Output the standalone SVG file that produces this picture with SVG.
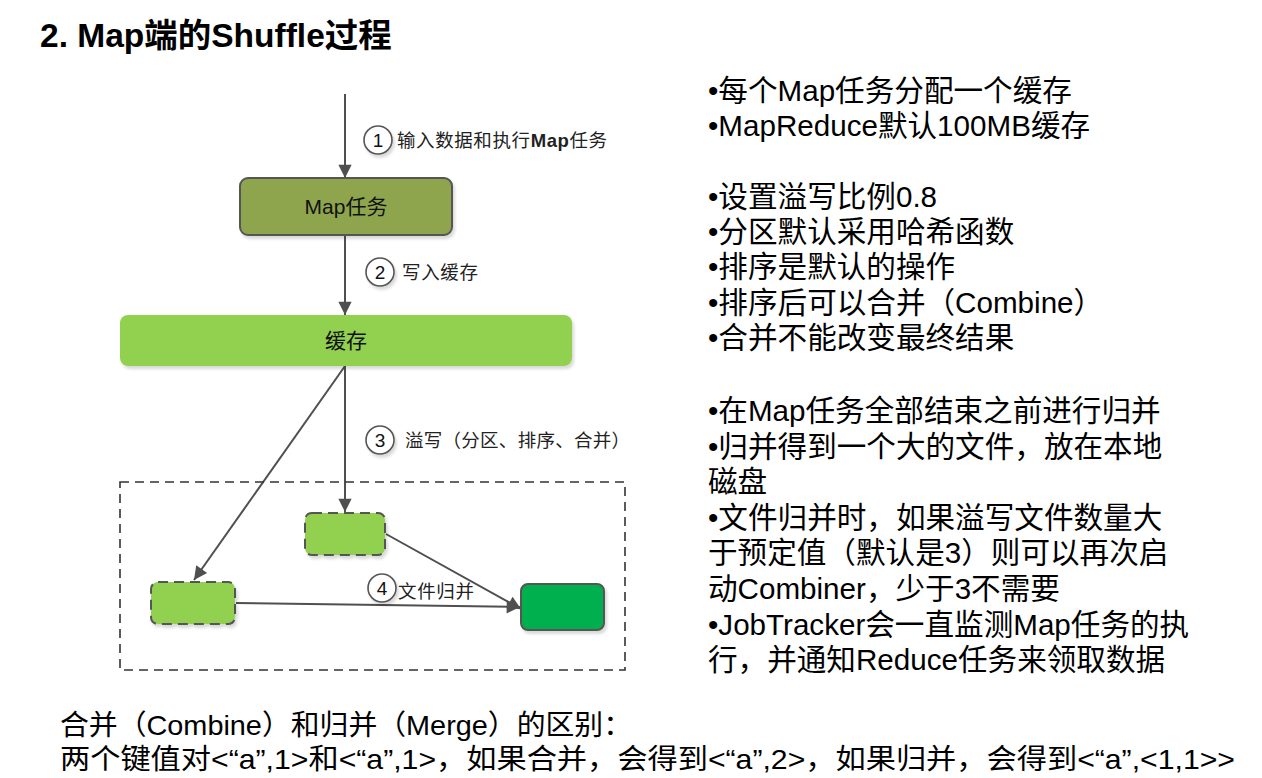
<svg xmlns="http://www.w3.org/2000/svg" width="1262" height="778" viewBox="0 0 1262 778">
<style>
.t{font-family:"Liberation Sans","Noto Sans CJK SC",sans-serif;fill:#000}
.title{font-size:33.5px;font-weight:bold}
.note{font-size:29.6px}
.bot{font-size:28px}
.lbl{font-family:"Noto Sans CJK SC","Liberation Sans",sans-serif;font-size:18.5px;fill:#222}
.num{font-family:"Liberation Sans",sans-serif;font-size:19px;fill:#111;text-anchor:middle}
.box{font-family:"Liberation Sans","Noto Sans CJK SC",sans-serif;fill:#111;text-anchor:middle}
.edge{stroke:#4f4f4f;stroke-width:2;fill:none}
.circ{fill:#fff;stroke:#555;stroke-width:1.6}
</style>
<defs>
<marker id="ah" viewBox="0 0 10 10" refX="10" refY="5" markerWidth="7" markerHeight="7" markerUnits="userSpaceOnUse" orient="auto" style="overflow:visible">
<path d="M0,0 L10,5 L0,10 z" fill="#4f4f4f" transform="scale(1.9)" transform-origin="10 5"/>
</marker>
<filter id="sh" x="-10%" y="-10%" width="130%" height="140%">
<feDropShadow dx="2" dy="3" stdDeviation="1.5" flood-color="#000" flood-opacity="0.15"/>
</filter>
</defs>
<rect width="1262" height="778" fill="#fff"/>
<text class="t title" x="40" y="47">2. Map端的Shuffle过程</text>

<g id="connectors">
<line class="edge" x1="345" y1="94" x2="345" y2="178" marker-end="url(#ah)"/>
<line class="edge" x1="345" y1="235" x2="345" y2="315" marker-end="url(#ah)"/>
<line class="edge" x1="345" y1="366" x2="345" y2="512" marker-end="url(#ah)"/>
<line class="edge" x1="345" y1="366" x2="194" y2="580" marker-end="url(#ah)"/>
<line class="edge" x1="386" y1="534" x2="521" y2="609" marker-end="url(#ah)"/>
<line class="edge" x1="236" y1="603" x2="520" y2="607" marker-end="url(#ah)"/>
</g>

<g id="label1">
<circle class="circ" cx="378" cy="140" r="14" filter="url(#sh)"/>
<text class="num" x="378" y="147">1</text>
<text class="lbl" x="397" y="147" textLength="210" lengthAdjust="spacing">输入数据和执行<tspan font-weight="bold" font-family="Liberation Sans, sans-serif">Map</tspan>任务</text>
</g>
<g id="label2">
<circle class="circ" cx="380" cy="272" r="14" filter="url(#sh)"/>
<text class="num" x="380" y="279">2</text>
<text class="lbl" x="402" y="279" textLength="76" lengthAdjust="spacing">写入缓存</text>
</g>
<g id="label3">
<circle class="circ" cx="380" cy="440" r="14" filter="url(#sh)"/>
<text class="num" x="380" y="447">3</text>
<text class="lbl" x="405" y="447" textLength="225" lengthAdjust="spacing">溢写（分区、排序、合并）</text>
</g>
<g id="label4">
<circle class="circ" cx="382" cy="588" r="14" filter="url(#sh)"/>
<text class="num" x="382" y="595">4</text>
<text class="lbl" x="398" y="598" textLength="76" lengthAdjust="spacing">文件归并</text>
</g>

<g id="maptask">
<rect x="240" y="178" width="212" height="57" rx="8" fill="#8ea54e" stroke="#555" stroke-width="2" filter="url(#sh)"/>
<text class="box" x="346" y="214" font-size="21">Map任务</text>
</g>
<g id="buffer">
<rect x="120" y="315" width="452" height="51" rx="8" fill="#92d050" filter="url(#sh)"/>
<text class="box" x="346" y="348" font-size="21">缓存</text>
</g>
<g id="spillarea">
<rect x="120" y="482" width="505" height="188" fill="none" stroke="#333" stroke-width="1.6" stroke-dasharray="9,6"/>
</g>
<g id="spill1">
<rect x="305" y="513" width="80" height="42" rx="7" fill="#92d050" stroke="#555" stroke-width="2" stroke-dasharray="10,6" filter="url(#sh)"/>
</g>
<g id="spill2">
<rect x="151" y="582" width="84" height="42" rx="7" fill="#92d050" stroke="#555" stroke-width="2" stroke-dasharray="10,6" filter="url(#sh)"/>
</g>
<g id="merged">
<rect x="521" y="584" width="83" height="46" rx="7" fill="#00b050" stroke="#555" stroke-width="2" filter="url(#sh)"/>
</g>

<g id="notes" class="t note">
<text x="708" y="101">•每个Map任务分配一个缓存</text>
<text x="708" y="136">•MapReduce默认100MB缓存</text>
<text x="708" y="207">•设置溢写比例0.8</text>
<text x="708" y="242">•分区默认采用哈希函数</text>
<text x="708" y="277">•排序是默认的操作</text>
<text x="708" y="313">•排序后可以合并（Combine）</text>
<text x="708" y="348">•合并不能改变最终结果</text>
<text x="708" y="421">•在Map任务全部结束之前进行归并</text>
<text x="708" y="457">•归并得到一个大的文件，放在本地</text>
<text x="708" y="492">磁盘</text>
<text x="708" y="528">•文件归并时，如果溢写文件数量大</text>
<text x="708" y="563">于预定值（默认是3）则可以再次启</text>
<text x="708" y="599">动Combiner，少于3不需要</text>
<text x="708" y="635">•JobTracker会一直监测Map任务的执</text>
<text x="708" y="670">行，并通知Reduce任务来领取数据</text>
</g>

<g id="bottom" class="t bot">
<text x="60" y="735" textLength="572" lengthAdjust="spacingAndGlyphs">合并（Combine）和归并（Merge）的区别：</text>
<text x="60" y="769" textLength="1175" lengthAdjust="spacingAndGlyphs">两个键值对&lt;“a”,1&gt;和&lt;“a”,1&gt;，如果合并，会得到&lt;“a”,2&gt;，如果归并，会得到&lt;“a”,&lt;1,1&gt;&gt;</text>
</g>
</svg>
